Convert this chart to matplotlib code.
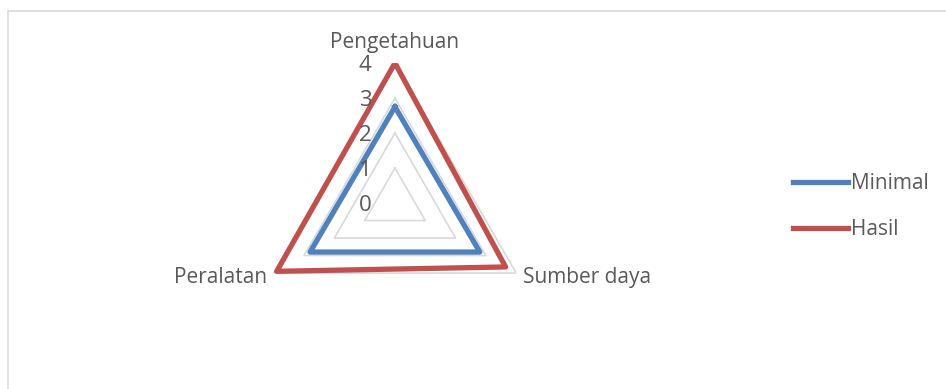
import numpy as np
import matplotlib
matplotlib.use("Agg")
import matplotlib.pyplot as plt
from matplotlib.patches import Rectangle
from matplotlib.transforms import offset_copy

categories = ["Pengetahuan", "Sumber daya", "Peralatan"]
minimal = [2.75, 2.8, 2.8]
hasil = [4.0, 3.65, 3.9]
levels = [1, 2, 3, 4]
tick_labels = ["0", "1", "2", "3", "4"]

blue = "#4f81bd"
red = "#c0504d"
grey_txt = "#595959"
grid_col = "#d9d9d9"

plt.rcParams['font.family'] = ['Open Sans', 'DejaVu Sans']

fig = plt.figure(figsize=(9.46, 3.89), dpi=100)
fig.patches.append(Rectangle((8 / 946, -0.1), 1.2, 1 - 11 / 389 + 0.1,
                             transform=fig.transFigure, fill=False,
                             edgecolor=grid_col, linewidth=1.2))

ax = fig.add_axes([0.2695, 0.118, 0.296, 0.72], projection='polar')
ax.set_theta_offset(np.pi / 2)
ax.set_theta_direction(-1)

n = len(categories)
theta = np.linspace(0, 2 * np.pi, n, endpoint=False)
theta_c = np.append(theta, theta[0])

# triangular grid
for lv in levels:
    ax.plot(theta_c, [lv] * (n + 1), color=grid_col, lw=1.2, zorder=1)

ax.plot(theta_c, minimal + minimal[:1], color=blue, lw=3.8,
        solid_joinstyle='round', label="Minimal", zorder=3)
ax.plot(theta_c, hasil + hasil[:1], color=red, lw=3.8,
        solid_joinstyle='round', label="Hasil", zorder=3)

ax.set_ylim(0, 4)
ax.set_xticks([])
ax.set_yticks([])
ax.grid(False)
ax.spines['polar'].set_visible(False)
ax.patch.set_alpha(0)

# radial tick labels, a column left of the top spoke
tick_tr = offset_copy(ax.transData, fig=fig, x=-30, y=-2, units='dots')
for i, lab in enumerate(tick_labels):
    ax.text(0, i, lab, transform=tick_tr, ha='center', va='center',
            fontsize=16, color=grey_txt)

# category labels
fs = 15
ax.text(theta[0], 4, categories[0], transform=offset_copy(ax.transData, fig=fig, x=0, y=21, units='dots'),
        ha='center', va='center', fontsize=fs, color=grey_txt)
ax.text(theta[1], 4, categories[1], transform=offset_copy(ax.transData, fig=fig, x=7, y=-4, units='dots'),
        ha='left', va='center', fontsize=fs, color=grey_txt)
ax.text(theta[2], 4, categories[2], transform=offset_copy(ax.transData, fig=fig, x=-7, y=-4, units='dots'),
        ha='right', va='center', fontsize=fs, color=grey_txt)

leg = fig.legend(loc='center left', bbox_to_anchor=(793 / 946, 1 - 206.5 / 389),
                 frameon=False, fontsize=fs, handlelength=2.65, handletextpad=0.15,
                 labelspacing=1.2, borderpad=0, borderaxespad=0)
for t in leg.get_texts():
    t.set_color(grey_txt)

fig.savefig("out.png", dpi=100)
